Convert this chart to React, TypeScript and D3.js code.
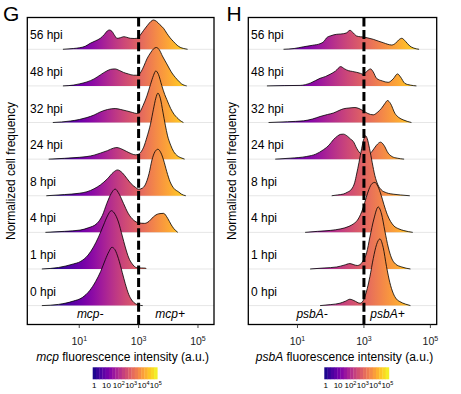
import React from "react";
import * as d3 from "d3";

// Time points, bottom row first
const timepoints = ["0 hpi", "1 hpi", "4 hpi", "8 hpi", "24 hpi", "32 hpi", "48 hpi", "56 hpi"];
const xTicks = [1, 3, 5];
const legendTicks = [0, 1, 2, 3, 4, 5];

// density ridges: [log10 intensity, normalized frequency]
const mcp0 = [[-0.26,0],[0.3,1.2],[0.8,4.5],[1.1,8],[1.35,15],[1.55,24],[1.72,34],[1.88,46],[2.0,54],[2.1,58.3],[2.2,56],[2.32,47],[2.45,33],[2.55,22],[2.67,11],[2.77,5.5],[2.9,1.8],[3.0,0.6],[3.14,0]];
const mcp1 = [[-0.26,0],[0.3,1.5],[0.8,5],[1.03,7.3],[1.3,14],[1.48,22],[1.65,32],[1.82,44],[1.95,53],[2.08,58.3],[2.18,56],[2.32,47],[2.45,33],[2.55,22],[2.67,11],[2.77,5.7],[2.94,1.3],[3.1,1],[3.24,0.8],[3.25,0]];
const mcp4 = [[-0.14,0],[0.5,1],[1.03,2.3],[1.3,4.5],[1.6,9],[1.78,17],[1.93,29],[2.08,39],[2.21,43.3],[2.35,38],[2.49,29],[2.65,19],[2.83,12.3],[3.0,9.5],[3.2,9],[3.35,11],[3.5,15.6],[3.67,18.5],[3.84,19],[3.98,14],[4.1,7.5],[4.18,4],[4.32,0]];
const mcp8 = [[-0.11,0],[0.5,1.2],[1.0,2.5],[1.26,4],[1.5,7],[1.71,10.8],[1.95,17],[2.15,23.5],[2.29,25.8],[2.45,23],[2.6,17.5],[2.75,12],[2.89,8.5],[3.0,6.5],[3.12,7.5],[3.22,10.8],[3.35,22],[3.45,35.8],[3.55,44],[3.65,46.5],[3.75,43],[3.84,35.8],[3.95,24],[4.06,14],[4.2,7],[4.34,4],[4.45,1.5],[4.59,0]];
const mcp24 = [[-0.03,0],[0.5,0.8],[1.0,1.8],[1.26,2.6],[1.5,4],[1.71,6],[1.95,8.5],[2.15,11],[2.27,11.6],[2.4,10.5],[2.6,7.6],[2.75,5.5],[2.89,4.3],[3.0,5],[3.1,8],[3.17,12],[3.28,22],[3.4,35],[3.5,50],[3.58,61],[3.65,66],[3.73,61],[3.82,47],[3.9,34],[3.97,24],[4.08,14],[4.18,7.6],[4.3,3.5],[4.46,1],[4.55,0]];
const mcp32 = [[0.11,0],[0.7,1.5],[1.0,3],[1.26,5],[1.5,7.5],[1.71,10.6],[1.95,13],[2.21,14],[2.4,13],[2.6,11.6],[2.8,10],[2.94,9],[3.05,11],[3.15,17],[3.28,26.6],[3.4,38],[3.5,47],[3.58,51.6],[3.67,48],[3.78,37],[3.88,28],[3.95,23],[4.08,14],[4.2,8],[4.29,5],[4.4,2],[4.51,0]];
const mcp48 = [[0.45,0],[0.8,0.8],[1.0,2],[1.26,4],[1.5,7],[1.71,11],[1.9,14.5],[2.05,16.5],[2.2,17],[2.35,15.5],[2.49,13.5],[2.65,12],[2.83,10.7],[2.96,10.7],[3.08,14],[3.18,20],[3.28,27],[3.4,33],[3.5,37],[3.6,38.4],[3.7,36],[3.8,30],[3.95,22],[4.1,14],[4.29,6.7],[4.45,2],[4.62,0]];
const mcp56 = [[0.45,0],[0.8,0.8],[1.0,1.5],[1.2,3],[1.37,6],[1.55,8.5],[1.71,11],[1.85,15],[1.95,18.5],[2.02,19.3],[2.1,18],[2.2,13.5],[2.27,11],[2.38,11.5],[2.5,12.6],[2.6,12],[2.72,11],[2.85,10.8],[2.94,11],[3.05,14],[3.17,19],[3.3,24],[3.42,28],[3.5,29.3],[3.6,28],[3.72,24.5],[3.84,21],[3.95,16],[4.06,11.5],[4.18,7.6],[4.3,4],[4.4,2],[4.52,0.8],[4.65,0]];

const psbA0 = [[1.68,0],[2.0,1],[2.28,2.4],[2.45,4.5],[2.58,6.4],[2.7,5],[2.88,2.4],[2.97,4.5],[3.03,9],[3.1,17],[3.18,29],[3.28,47],[3.38,61],[3.48,66.7],[3.58,58],[3.68,39],[3.78,23],[3.88,12.4],[3.98,6.5],[4.08,4],[4.25,1.5],[4.4,0]];
const psbA1 = [[1.38,0],[1.8,1],[2.18,2],[2.4,3.8],[2.58,5.4],[2.7,4.2],[2.8,3.5],[2.92,5.5],[2.98,8.7],[3.08,16],[3.18,32],[3.3,50],[3.43,62],[3.53,55],[3.63,38],[3.73,22],[3.83,11],[3.95,5],[4.14,2],[4.4,0]];
const psbA4 = [[1.23,0],[1.6,1],[2.0,2],[2.3,3.5],[2.55,6],[2.68,8.4],[2.8,12],[2.9,18],[2.98,25],[3.07,35],[3.15,43],[3.25,49],[3.33,50],[3.42,46],[3.52,37],[3.6,28],[3.7,18],[3.8,11],[3.9,6.5],[4.05,3.5],[4.2,1.8],[4.47,0]];
const psbA8 = [[2.03,0],[2.2,0.8],[2.38,1.7],[2.5,3.5],[2.63,6.7],[2.72,13],[2.78,21.7],[2.85,33],[2.93,47],[3.0,57],[3.05,60],[3.1,57],[3.17,47],[3.25,33],[3.33,20],[3.42,11],[3.52,6],[3.68,3],[3.9,1.5],[4.1,0.8],[4.38,0]];
const psbA24 = [[0.33,0],[0.8,1],[1.28,2.7],[1.55,5],[1.78,9.4],[1.95,14],[2.08,19.4],[2.2,23],[2.3,24.8],[2.38,25],[2.5,23],[2.6,20],[2.68,17.7],[2.78,11],[2.88,6],[3.0,3.7],[3.12,4],[3.25,8],[3.38,14],[3.5,17],[3.6,14],[3.73,6],[3.85,2.5],[4.0,1],[4.21,0]];
const psbA32 = [[0.13,0],[0.7,0.8],[1.18,1.7],[1.45,3.5],[1.68,6],[1.9,8],[2.08,9.5],[2.25,12],[2.38,13.7],[2.55,14.5],[2.73,15],[2.85,14],[2.98,11.7],[3.12,9],[3.28,7.7],[3.4,10],[3.53,14.3],[3.63,19],[3.71,22],[3.8,19],[3.93,9.3],[4.05,5],[4.18,2.7],[4.3,1.2],[4.43,0]];
const psbA48 = [[0.08,0],[0.6,0.3],[1.08,0.5],[1.4,3],[1.68,7.6],[1.85,9.5],[1.98,11.6],[2.15,15],[2.3,19.3],[2.42,17],[2.53,15.3],[2.65,14.5],[2.78,13.6],[2.9,12.5],[2.98,11.6],[3.1,15],[3.2,17],[3.28,14],[3.38,7.6],[3.55,5],[3.73,3.6],[3.88,7],[4.01,12],[4.1,9],[4.23,2.6],[4.4,0.8],[4.58,0]];
const psbA56 = [[0.58,0],[0.9,0.8],[1.18,2.5],[1.45,4],[1.68,5.6],[1.8,8],[1.88,11.6],[2.0,13.5],[2.18,15],[2.3,15.3],[2.38,15.6],[2.48,16.5],[2.58,19],[2.66,17],[2.78,13.3],[2.9,12.5],[2.98,12.3],[3.1,11.5],[3.28,10],[3.45,8],[3.58,6.6],[3.72,5],[3.83,4.3],[3.95,6],[4.05,9.5],[4.14,11],[4.25,8],[4.38,3.3],[4.5,1.2],[4.66,0]];

const mcpRows = [mcp0, mcp1, mcp4, mcp8, mcp24, mcp32, mcp48, mcp56];
const psbARows = [psbA0, psbA1, psbA4, psbA8, psbA24, psbA32, psbA48, psbA56];

const FONT = "'Liberation Sans', Arial, Helvetica, sans-serif";
const supDigits: Record<number, string> = { 1: "1", 2: "2", 3: "3", 4: "4", 5: "5" };

type PanelProps = {
  id: string;
  letter: string;
  gene: string;
  rows: number[][][];
  left: number;
  right: number;
  domain: [number, number];
  letterX: number;
  yTitleX: number;
  groupNeg: number;
  groupPos: number;
  legendX: number;
};

function Panel(p: PanelProps) {
  const top = 17.5;
  const bottom = 324.5;
  const x = d3.scaleLinear().domain(p.domain).range([p.left, p.right]);
  const y = d3.scalePoint<string>().domain(timepoints).range([305.6, 49.3]);
  const h = d3.scaleLinear().domain([0, 10]).range([0, 10]);
  const area = d3
    .area<number[]>()
    .x((d) => x(d[0]))
    .y0(0)
    .y1((d) => -h(d[1]))
    .curve(d3.curveMonotoneX);
  const line = d3
    .line<number[]>()
    .x((d) => x(d[0]))
    .y((d) => -h(d[1]))
    .curve(d3.curveMonotoneX);
  const color = (t: number) => d3.interpolatePlasma(t);
  const gradId = "grad-" + p.id;
  const stops = d3.range(0, 1.0001, 0.05);
  const legendW = 64.6;
  const legendBins = d3.range(20);
  const lx = d3.scaleLinear().domain([0, 5]).range([p.legendX + 1.5, p.legendX + legendW - 1.5]);
  const cx = (p.left + p.right) / 2;
  const drawOrder = timepoints.map((t, i) => i).reverse();
  return (
    <g>
      <defs>
        <linearGradient id={gradId} gradientUnits="userSpaceOnUse" x1={x(0)} x2={x(5)} y1={0} y2={0}>
          {stops.map((s) => (
            <stop key={s} offset={s} stopColor={color(s)} />
          ))}
        </linearGradient>
      </defs>
      <text x={p.letterX} y={21} fontSize={21} fontFamily={FONT}>{p.letter}</text>
      {timepoints.map((t) => (
        <line key={"g" + t} x1={p.left} x2={p.right} y1={y(t)} y2={y(t)} stroke="#e6e6e6" strokeWidth={1} />
      ))}
      {drawOrder.map((i) => {
        const t = timepoints[i];
        return (
          <g key={t} transform={`translate(0,${y(t)})`}>
            <path d={area(p.rows[i] as any) || ""} fill={`url(#${gradId})`} />
            <path d={line(p.rows[i] as any) || ""} fill="none" stroke="#000" strokeWidth={0.8} />
          </g>
        );
      })}
      {timepoints.map((t) => (
        <text key={"l" + t} x={p.left + 2.7} y={(y(t) as number) - 10} fontSize={12} fontFamily={FONT}>{t}</text>
      ))}
      <line x1={x(3)} x2={x(3)} y1={top} y2={bottom} stroke="#000" strokeWidth={3} strokeDasharray="9,3.4" />
      <text x={x(p.groupNeg)} y={317.5} fontSize={12} fontStyle="italic" textAnchor="middle" fontFamily={FONT}>{p.gene + "-"}</text>
      <text x={x(p.groupPos)} y={317.5} fontSize={12} fontStyle="italic" textAnchor="middle" fontFamily={FONT}>{p.gene + "+"}</text>
      <rect x={p.left} y={top} width={p.right - p.left} height={bottom - top} fill="none" stroke="#000" strokeWidth={1.3} />
      {xTicks.map((v) => (
        <g key={"t" + v}>
          <line x1={x(v)} x2={x(v)} y1={bottom} y2={bottom + 3.5} stroke="#333" strokeWidth={0.9} />
          <text x={x(v)} y={345} fontSize={10.5} textAnchor="middle" fontFamily={FONT} fill="#1a1a1a">
            <tspan>10</tspan>
            <tspan dy={-4.5} fontSize={7}>{supDigits[v]}</tspan>
          </text>
        </g>
      ))}
      <text x={cx + 2} y={361} fontSize={12} textAnchor="middle" fontFamily={FONT}>
        <tspan fontStyle="italic">{p.gene}</tspan>
        <tspan> fluorescence intensity (a.u.)</tspan>
      </text>
      <text transform={`translate(${p.yTitleX},${(top + bottom) / 2}) rotate(-90)`} fontSize={12} textAnchor="middle" fontFamily={FONT}>
        Normalized cell frequency
      </text>
      {legendBins.map((b) => (
        <rect key={"lb" + b} x={p.legendX + (b * legendW) / 20} y={367.3} width={legendW / 20 + 0.3} height={12} fill={color((b + 0.5) / 20)} />
      ))}
      {legendTicks.map((v) => (
        <text key={"lt" + v} x={lx(v)} y={387.5} fontSize={8} textAnchor="middle" fontFamily={FONT}>
          {v === 0 ? "1" : v === 1 ? "10" : (
            <>
              <tspan>10</tspan>
              <tspan dy={-3} fontSize={5.5}>{supDigits[v]}</tspan>
            </>
          )}
        </text>
      ))}
    </g>
  );
}

export default function App() {
  return (
    <svg width={461} height={394} style={{ position: "absolute", left: 0, top: 0, background: "#fff" }}>
      <rect width={461} height={394} fill="#fff" />
      <Panel id="g" letter="G" gene="mcp" rows={mcpRows} left={27.3} right={214} domain={[-0.75, 5.54]}
        letterX={3} yTitleX={15} groupNeg={1.37} groupPos={4.06} legendX={92.7} />
      <Panel id="h" letter="H" gene="psbA" rows={psbARows} left={248.3} right={436.7} domain={[-0.48, 5.19]}
        letterX={226.5} yTitleX={236} groupNeg={1.44} groupPos={3.71} legendX={324.3} />
    </svg>
  );
}
